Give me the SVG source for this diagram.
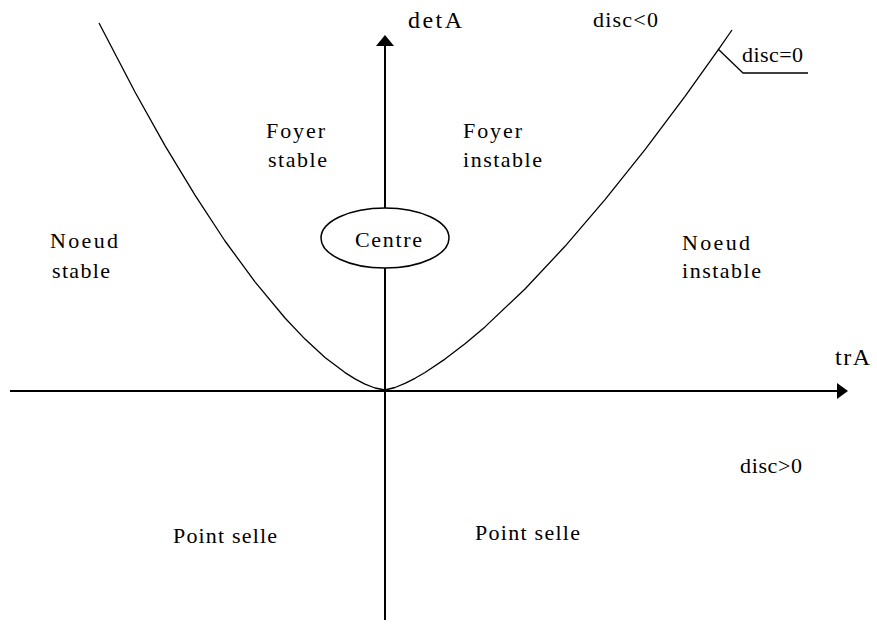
<svg xmlns="http://www.w3.org/2000/svg" width="877" height="626" viewBox="0 0 877 626">
<style>
text{font-family:"Liberation Serif","DejaVu Serif",serif;font-size:22px;fill:#000}
.big{font-size:24px}
.ax{stroke:#000;stroke-width:2;fill:none}
.cv{stroke:#000;stroke-width:1.3;fill:none;stroke-linejoin:round}
</style>
<rect width="877" height="626" fill="#fff"/>
<g id="connectors">
<line class="ax" x1="385" y1="620" x2="385" y2="44"/>
<polygon points="385,35 376,46 394,46" fill="#000"/>
<line class="ax" x1="10" y1="391" x2="838" y2="391"/>
<polygon points="848,391 837,383 837,399" fill="#000"/>
<path id="curve" class="cv" d="M99,23 L135,92 L165,145.6 L195,195.1 L225,241 L255,281.8 L285,318 L305,339.1 L325,357.4 L345,372.6 L355,378.9 L365,384.1 L375,388 L385,390 L395,387.5 L405,383.4 L415,378.3 L425,372.5 L445,359.1 L465,343.8 L485,326.9 L525,289 L565,246.3 L605,199.6 L645,149.6 L685,96.3 L718,50.2 L732,30"/>
<polyline class="cv" points="718,49 743,73 808,73"/>
</g>
<g id="centre">
<ellipse cx="385" cy="238" rx="64" ry="30" fill="#fff" stroke="#000" stroke-width="1.5"/>
<text x="355" y="247" textLength="67" lengthAdjust="spacing">Centre</text>
</g>
<g id="axis-labels">
<text class="big" x="408" y="28" textLength="54" lengthAdjust="spacing">detA</text>
<text class="big" x="835" y="365" textLength="35" lengthAdjust="spacing">trA</text>
</g>
<g id="disc-labels">
<text x="593" y="27" textLength="65" lengthAdjust="spacing">disc&lt;0</text>
<text x="742" y="62" textLength="61" lengthAdjust="spacing">disc=0</text>
<text x="740" y="473" textLength="62" lengthAdjust="spacing">disc&gt;0</text>
</g>
<g id="noeud-stable">
<text x="50" y="248" textLength="68" lengthAdjust="spacing">Noeud</text>
<text x="52" y="278" textLength="58" lengthAdjust="spacing">stable</text>
</g>
<g id="foyer-stable">
<text x="266" y="138" textLength="59" lengthAdjust="spacing">Foyer</text>
<text x="268" y="167" textLength="59" lengthAdjust="spacing">stable</text>
</g>
<g id="foyer-instable">
<text x="463" y="138" textLength="59" lengthAdjust="spacing">Foyer</text>
<text x="463" y="167" textLength="79" lengthAdjust="spacing">instable</text>
</g>
<g id="noeud-instable">
<text x="682" y="250" textLength="68" lengthAdjust="spacing">Noeud</text>
<text x="682" y="278" textLength="79" lengthAdjust="spacing">instable</text>
</g>
<g id="point-selle-left">
<text x="173" y="543" textLength="104" lengthAdjust="spacing">Point selle</text>
</g>
<g id="point-selle-right">
<text x="475" y="540" textLength="105" lengthAdjust="spacing">Point selle</text>
</g>
</svg>
